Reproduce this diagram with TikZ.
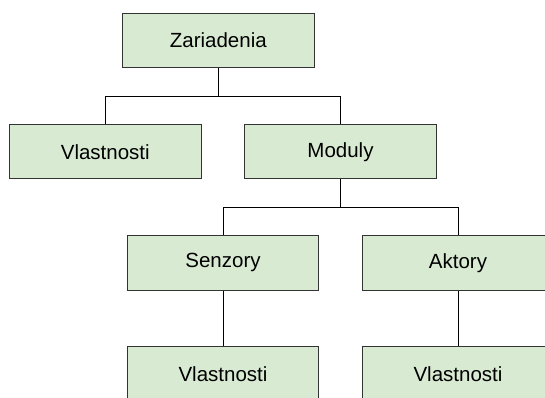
\documentclass[tikz,border=0pt]{standalone}
\usepackage{fontspec}
\setmainfont{Liberation Sans}
\usetikzlibrary{positioning}
\definecolor{boxfill}{HTML}{D9EAD3}
\definecolor{boxline}{HTML}{333333}

\begin{document}
\begin{tikzpicture}[auto,node distance=55.7pt]
	\tikzstyle{box}=[rectangle,draw=boxline,fill=boxfill,line width=1pt,minimum width=191.6pt,minimum height=54.5pt,inner sep=0pt,font=\fontsize{20.5}{24}\selectfont]
	\useasboundingbox (0,0) rectangle (545pt,-397pt);
		\node[box] (zar) at (218.3pt,-40.5pt) {Zariadenia};
		\node[box] (vl1) [below=of zar, xshift=-113pt] {Vlastnosti};
		\node[box] (mod) [right=42.6pt of vl1] {Moduly};
		\node[box] (sen) [below=of mod, xshift=-117.5pt] {Senzory};
		\node[box] (akt) [right=42.4pt of sen] {Aktory};
		\node[box] (vl2) [below=of sen] {Vlastnosti};
		\node[box] (vl3) [below=of akt] {Vlastnosti};
			\path (zar.south) ++(0,-27.8pt) coordinate (j1);
			\path (mod.south) ++(0,-27.8pt) coordinate (j2);
			\draw[line width=1pt] (zar.south) -- (j1) -| (vl1.north);
			\draw[line width=1pt] (j1) -| (mod.north);
			\draw[line width=1pt] (mod.south) -- (j2) -| (sen.north);
			\draw[line width=1pt] (j2) -| (akt.north);
			\draw[line width=1pt] (sen) -- (vl2);
			\draw[line width=1pt] (akt) -- (vl3);
\end{tikzpicture}
\end{document}
